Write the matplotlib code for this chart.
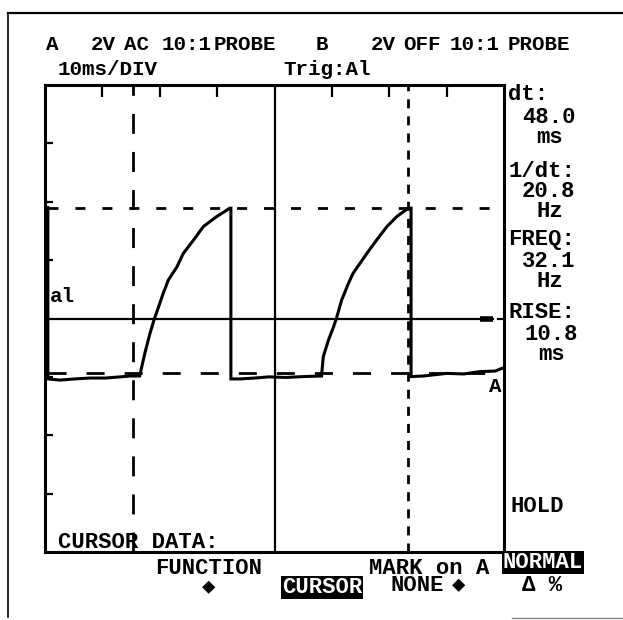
import matplotlib.pyplot as plt
from matplotlib.lines import Line2D

plt.rcParams['lines.scale_dashes'] = False

W, H = 623, 620
FONT = ['Liberation Mono', 'DejaVu Sans Mono', 'DejaVu Sans']
FS = 15

# channel A trace: time in ms (10 ms/div), level in volts (2 V/div)
trace_t = [0.5, 0.5, 2.6, 5.2, 7.8, 10.5, 13.1, 14.8, 16.5, 17.4, 18.3, 19.0,
           19.8, 20.6, 21.5, 23.0, 24.1, 25.9, 27.6, 29.9, 31.2, 32.2, 32.4,
           32.4, 34.0, 36.5, 39.0, 42.0, 45.0, 48.2, 48.5, 49.4, 50.3, 50.8,
           51.7, 52.9, 53.7, 54.9, 56.1, 57.8, 59.6, 61.3, 63.3, 63.8, 63.8,
           66.0, 70.0, 73.0, 75.8, 78.5, 79.6]
trace_v = [3.80, -2.07, -2.11, -2.07, -2.04, -2.04, -2.00, -1.97, -1.97, -1.19,
           -0.51, -0.05, 0.40, 0.86, 1.32, 1.77, 2.23, 2.69, 3.15, 3.49, 3.65,
           3.78, 3.78, -2.07, -2.07, -2.04, -2.00, -2.02, -1.99, -1.97, -1.31,
           -0.74, -0.28, 0.01, 0.63, 1.21, 1.55, 1.89, 2.23, 2.69, 3.15, 3.49,
           3.78, 3.78, -1.99, -1.97, -1.88, -1.90, -1.82, -1.80, -1.71]

# cursors
t_cursor = [15.3, 63.3]
v_cursor = [3.8, -1.87]

# readouts on the right
readouts = [('dt:', 508, 100), ('48.0', 522, 123), ('ms', 536, 143),
            ('1/dt:', 508, 177), ('20.8', 522, 197), ('Hz', 536, 217),
            ('FREQ:', 508, 245), ('32.1', 522, 267), ('Hz', 536, 287),
            ('RISE:', 508, 318), ('10.8', 524, 340), ('ms', 538, 360),
            ('HOLD', 510, 512)]

header = [('A', 46, 50), ('2V', 91, 50), ('AC', 124, 50), ('10:1', 162, 50),
          ('PROBE', 214, 50), ('B', 316, 50), ('2V', 371, 50), ('OFF', 403, 50),
          ('10:1', 450, 50), ('PROBE', 508, 50),
          ('10ms/DIV', 58, 75), ('Trig:Al', 283, 75)]

footer = [('CURSOR DATA:', 58, 548), ('FUNCTION', 155, 574), ('\u25c6', 202, 593),
          ('NONE', 391, 591), ('\u25c6', 452, 591), ('\u0394 %', 522, 591),
          ('MARK on A', 369, 574)]
inverse = [('CURSOR', 282, 593), ('NORMAL', 503, 568)]


def label(s, x, y, inv=False, size=FS):
    kw = {}
    if inv:
        kw['bbox'] = dict(facecolor='black', edgecolor='none', pad=0.6)
    fig.text(x / W, 1 - y / H, s, ha='left', va='baseline', family=FONT,
             weight='bold', fontsize=size, color='white' if inv else 'black', **kw)


fig = plt.figure(figsize=(W / 100, H / 100), dpi=100)
ax = fig.add_axes([45 / W, 1 - 552 / H, 459 / W, 467 / H])
ax.set_xlim(0, 80)
ax.set_ylim(-8, 8)
for s in ax.spines.values():
    s.set_linewidth(2.2)

ax.xaxis.set_ticks_position('top')
ax.set_xticks([10, 20, 30, 50, 60, 70])
ax.set_yticks([6, 4, 2, -2, -4, -6])
ax.tick_params(direction='in', labeltop=False, labelleft=False, labelbottom=False)
ax.tick_params(axis='x', length=8.5, width=1.6)
ax.tick_params(axis='y', length=6, width=1.6)

# centre graticule lines
ax.axvline(40, color='black', lw=1.6)
ax.plot([0, 78], [0, 0], color='black', lw=1.6)
ax.plot([75.8, 78.0], [0, 0], color='black', lw=4, solid_capstyle='butt')
ax.plot([79.0, 80.0], [0, 0], color='black', lw=1.6)

# cursors
ax.axvline(t_cursor[0], color='black', lw=2.0, linestyle=(0, (14.4, 13)))
ax.axvline(t_cursor[1], color='black', lw=2.0, linestyle=(0, (6.5, 5.8)))
ax.plot([0.5, 79.4], [v_cursor[0]] * 2, color='black', lw=2.0, linestyle=(0, (7.2, 12.2)))
ax.plot([0.5, 79.4], [v_cursor[1]] * 2, color='black', lw=2.0, linestyle=(0, (13, 14.4)))

ax.plot(trace_t, trace_v, color='black', lw=2.2, solid_joinstyle='miter')

for s, x, y in header:
    label(s, x, y)
for s, x, y in readouts + footer:
    label(s, x, y, size=16)
for s, x, y in inverse:
    label(s, x, y, inv=True, size=16)
label('al', 50, 302)
label('A', 489, 392)

# scanned page border
fig.add_artist(Line2D([8 / W, 1], [1 - 13 / H] * 2, color='black', lw=1.6))
fig.add_artist(Line2D([8 / W] * 2, [1 - 13 / H, 1 - 617 / H], color='black', lw=1.2))
fig.add_artist(Line2D([512 / W, 1], [1 - 618 / H] * 2, color='#888888', lw=1.0))

fig.savefig('out.png', dpi=100, facecolor='white')
